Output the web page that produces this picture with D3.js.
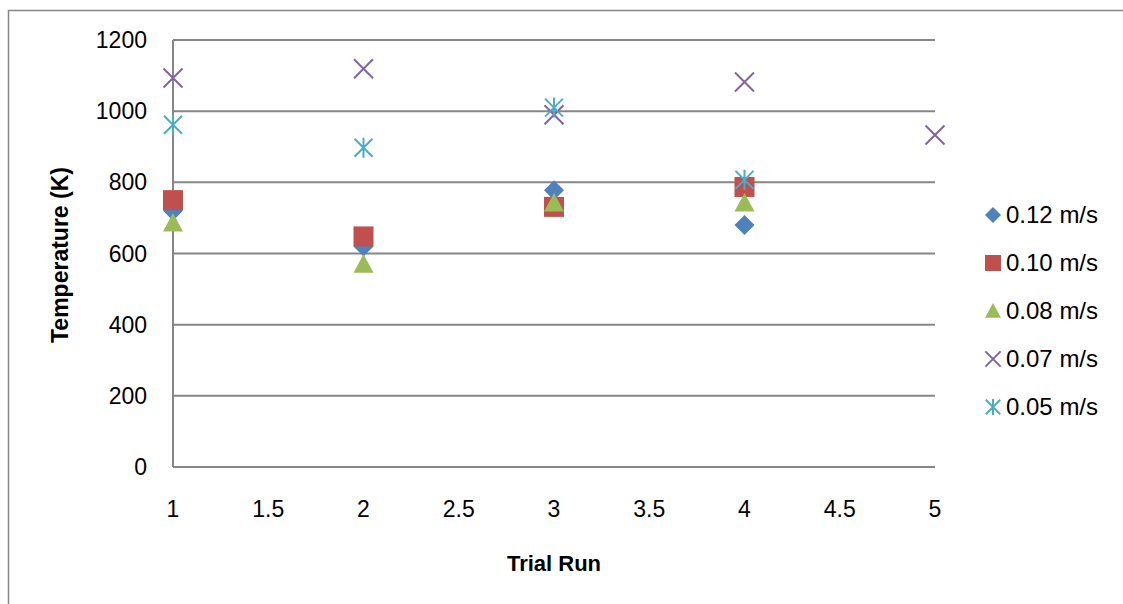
<!DOCTYPE html>
<html>
<head>
<meta charset="utf-8">
<script src="https://cdn.jsdelivr.net/npm/d3@7"></script>
<style>
  html, body { margin: 0; padding: 0; background: #fff; }
  svg { display: block; }
  text { font-family: "Liberation Sans", Arial, sans-serif; fill: #000; }
</style>
</head>
<body>
<svg id="chart" width="1123" height="604"></svg>
<script>
// ---- data ----
const runs = [1, 2, 3, 4, 5];
const seriesNames = ["0.12 m/s", "0.10 m/s", "0.08 m/s", "0.07 m/s", "0.05 m/s"];
const s012 = [720, 620, 778, 680];
const s010 = [750, 648, 731, 787];
const s008 = [686, 570, 742, 742];
const s007 = [1093, 1119, 990, 1082, 933];
const s005 = [962, 897, 1010, 807];
const xTicks = [1, 1.5, 2, 2.5, 3, 3.5, 4, 4.5, 5];
const yTicks = [0, 200, 400, 600, 800, 1000, 1200];
const colors = ["#4F81BD", "#C0504D", "#9BBB59", "#8064A2", "#4BACC6"];
const shapes = ["diamond", "square", "triangle", "x", "star"];

const seriesValues = [s012, s010, s008, s007, s005];

(function () {
const svg = d3.select("#chart");
const pLeft = 173, pRight = 935, pTop = 40, pBottom = 467;

// outer chart border
svg.append("rect").attr("x", 8.5).attr("y", 10.5).attr("width", 1200).attr("height", 800)
  .attr("fill", "none").attr("stroke", "#868686").attr("stroke-width", 1.5);

const x = d3.scaleLinear().domain([1, 5]).range([pLeft, pRight]);
const y = d3.scaleLinear().domain([0, 1200]).range([pBottom, pTop]);

// gridlines
svg.append("g").selectAll("line").data(yTicks.filter(d => d > 0)).join("line")
  .attr("x1", pLeft).attr("x2", pRight)
  .attr("y1", d => y(d)).attr("y2", d => y(d))
  .attr("stroke", "#868686").attr("stroke-width", 2);

// axes lines
svg.append("line").attr("x1", pLeft).attr("x2", pRight).attr("y1", pBottom).attr("y2", pBottom)
  .attr("stroke", "#868686").attr("stroke-width", 2);
svg.append("line").attr("x1", pLeft).attr("x2", pLeft).attr("y1", pTop).attr("y2", pBottom)
  .attr("stroke", "#868686").attr("stroke-width", 2);

// tick labels
svg.append("g").selectAll("text").data(yTicks).join("text")
  .attr("x", 147).attr("y", d => y(d)).attr("dy", "0.35em")
  .attr("text-anchor", "end").attr("font-size", 23).text(d => d);
svg.append("g").selectAll("text").data(xTicks).join("text")
  .attr("x", d => x(d)).attr("y", 509).attr("dy", "0.35em")
  .attr("text-anchor", "middle").attr("font-size", 23).text(d => d);

// axis titles
svg.append("text").attr("x", 554).attr("y", 563).attr("dy", "0.35em")
  .attr("text-anchor", "middle").attr("font-size", 22).attr("font-weight", "bold").text("Trial Run");
svg.append("text").attr("transform", "translate(60,255) rotate(-90)").attr("dy", "0.35em")
  .attr("text-anchor", "middle").attr("font-size", 23).attr("font-weight", "bold").text("Temperature (K)");

// marker drawing
function drawMarker(g, shape, color, cx, cy, s) {
  const h = s / 2;
  if (shape === "diamond") {
    g.append("path").attr("d", `M${cx},${cy - h}L${cx + h},${cy}L${cx},${cy + h}L${cx - h},${cy}Z`).attr("fill", color);
  } else if (shape === "square") {
    g.append("rect").attr("x", cx - h).attr("y", cy - h).attr("width", s).attr("height", s).attr("fill", color);
  } else if (shape === "triangle") {
    g.append("path").attr("d", `M${cx},${cy - h}L${cx + h},${cy + h * 0.85}L${cx - h},${cy + h * 0.85}Z`).attr("fill", color);
  } else if (shape === "x") {
    const k = h * 0.95;
    g.append("path").attr("d", `M${cx - k},${cy - k}L${cx + k},${cy + k}M${cx - k},${cy + k}L${cx + k},${cy - k}`)
      .attr("stroke", color).attr("stroke-width", 2).attr("fill", "none");
  } else if (shape === "star") {
    const k = h * 0.9;
    g.append("path").attr("d", `M${cx - k},${cy - k}L${cx + k},${cy + k}M${cx - k},${cy + k}L${cx + k},${cy - k}M${cx},${cy - h}L${cx},${cy + h}`)
      .attr("stroke", color).attr("stroke-width", 2).attr("fill", "none");
  }
}

const marks = svg.append("g");
seriesValues.forEach((vals, i) => {
  const g = marks.append("g");
  vals.forEach((v, j) => drawMarker(g, shapes[i], colors[i], x(runs[j]), y(v), 20));
});

// legend
const legendY = [215, 263, 311, 359, 407];
const lg = svg.append("g");
seriesNames.forEach((name, i) => {
  drawMarker(lg, shapes[i], colors[i], 993, legendY[i], 16);
  lg.append("text").attr("x", 1006).attr("y", legendY[i]).attr("dy", "0.35em")
    .attr("font-size", 24).text(name);
});
})();
</script>
</body>
</html>
